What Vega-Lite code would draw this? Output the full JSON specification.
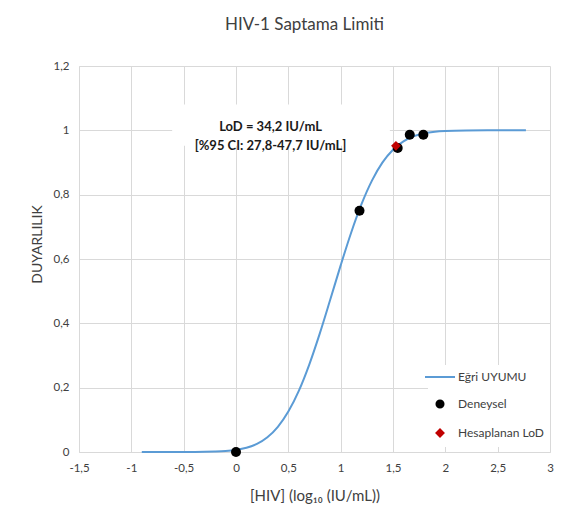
{
  "$schema": "https://vega.github.io/schema/vega-lite/v6.json",
  "width": 471,
  "height": 386,
  "autosize": {"type": "none"},
  "padding": {"left": 79, "top": 66, "right": 37, "bottom": 64},
  "background": "white",
  "title": {"text": "HIV-1 Saptama Limiti", "fontSize": 17, "font": "Lato", "fontWeight": "normal", "color": "#404040", "anchor": "middle", "frame": "group", "offset": 26, "dx": -10},
  "datasets": {
    "curve": [
      {"x": -0.9, "y": 0, "series": "Eğri UYUMU"},
      {"x": -0.7, "y": 0.00001, "series": "Eğri UYUMU"},
      {"x": -0.5, "y": 0.00006, "series": "Eğri UYUMU"},
      {"x": -0.4, "y": 0.00017, "series": "Eğri UYUMU"},
      {"x": -0.3, "y": 0.00047, "series": "Eğri UYUMU"},
      {"x": -0.2, "y": 0.0012, "series": "Eğri UYUMU"},
      {"x": -0.1, "y": 0.0028, "series": "Eğri UYUMU"},
      {"x": 0.0, "y": 0.0063, "series": "Eğri UYUMU"},
      {"x": 0.1, "y": 0.013, "series": "Eğri UYUMU"},
      {"x": 0.2, "y": 0.0251, "series": "Eğri UYUMU"},
      {"x": 0.3, "y": 0.0458, "series": "Eğri UYUMU"},
      {"x": 0.4, "y": 0.0782, "series": "Eğri UYUMU"},
      {"x": 0.5, "y": 0.1256, "series": "Eğri UYUMU"},
      {"x": 0.6, "y": 0.19, "series": "Eğri UYUMU"},
      {"x": 0.7, "y": 0.2718, "series": "Eğri UYUMU"},
      {"x": 0.8, "y": 0.3679, "series": "Eğri UYUMU"},
      {"x": 0.9, "y": 0.4731, "series": "Eğri UYUMU"},
      {"x": 1.0, "y": 0.5802, "series": "Eğri UYUMU"},
      {"x": 1.1, "y": 0.6817, "series": "Eğri UYUMU"},
      {"x": 1.2, "y": 0.7711, "series": "Eğri UYUMU"},
      {"x": 1.3, "y": 0.8444, "series": "Eğri UYUMU"},
      {"x": 1.4, "y": 0.9002, "series": "Eğri UYUMU"},
      {"x": 1.5, "y": 0.9397, "series": "Eğri UYUMU"},
      {"x": 1.6, "y": 0.9658, "series": "Eğri UYUMU"},
      {"x": 1.7, "y": 0.9818, "series": "Eğri UYUMU"},
      {"x": 1.8, "y": 0.9909, "series": "Eğri UYUMU"},
      {"x": 1.9, "y": 0.9958, "series": "Eğri UYUMU"},
      {"x": 2.0, "y": 0.9981, "series": "Eğri UYUMU"},
      {"x": 2.2, "y": 0.9997, "series": "Eğri UYUMU"},
      {"x": 2.4, "y": 1.0, "series": "Eğri UYUMU"},
      {"x": 2.6, "y": 1.0, "series": "Eğri UYUMU"},
      {"x": 2.77, "y": 1.0, "series": "Eğri UYUMU"}
    ],
    "exp": [
      {"x": 0.0, "y": 0.0, "series": "Deneysel"},
      {"x": 1.18, "y": 0.75, "series": "Deneysel"},
      {"x": 1.545, "y": 0.945, "series": "Deneysel"},
      {"x": 1.66, "y": 0.986, "series": "Deneysel"},
      {"x": 1.79, "y": 0.986, "series": "Deneysel"}
    ],
    "lod": [
      {"x": 1.528, "y": 0.952, "series": "Hesaplanan LoD"}
    ],
    "note": [
      {"x1": -0.61, "x2": 1.47, "y1": 0.952, "y2": 1.08, "xc": 0.33, "yc": 1.01, "label": ["LoD = 34,2 IU/mL", "[%95 CI: 27,8-47,7 IU/mL]"]}
    ]
  },
  "layer": [
    {
      "data": {"name": "note"},
      "mark": {"type": "rect", "fill": "white"},
      "encoding": {
        "x": {"field": "x1", "type": "quantitative", "scale": {"domain": [-1.5, 3], "nice": false, "zero": false}, "axis": {"values": [-1.5, -1, -0.5, 0, 0.5, 1, 1.5, 2, 2.5, 3], "title": "[HIV] (log₁₀ (IU/mL))"}},
        "x2": {"field": "x2"},
        "y": {"field": "y1", "type": "quantitative", "scale": {"domain": [0, 1.2], "nice": false}, "axis": {"values": [0, 0.2, 0.4, 0.6, 0.8, 1, 1.2], "title": "DUYARLILIK"}},
        "y2": {"field": "y2"}
      }
    },
    {
      "data": {"name": "curve"},
      "mark": {"type": "line", "strokeWidth": 2, "interpolate": "monotone"},
      "encoding": {
        "x": {"field": "x", "type": "quantitative"},
        "y": {"field": "y", "type": "quantitative"},
        "color": {
          "field": "series", "type": "nominal",
          "scale": {"domain": ["Eğri UYUMU", "Deneysel", "Hesaplanan LoD"], "range": ["#5B9BD5", "#000000", "#C00000"]},
          "legend": {
            "encode": {
              "symbols": {
                "update": {
                  "shape": {"signal": "datum.value === 'Eğri UYUMU' ? 'stroke' : (datum.value === 'Deneysel' ? 'circle' : 'diamond')"},
                  "size": {"signal": "datum.value === 'Eğri UYUMU' ? 900 : 50"},
                  "fill": {"signal": "datum.value === 'Eğri UYUMU' ? 'transparent' : scale('color', datum.value)"},
                  "stroke": {"signal": "datum.value === 'Eğri UYUMU' ? '#5B9BD5' : 'transparent'"},
                  "strokeWidth": {"value": 2},
                  "opacity": {"value": 1}
                }
              }
            }
          }
        }
      }
    },
    {
      "data": {"name": "exp"},
      "mark": {"type": "point", "filled": true, "size": 100, "opacity": 1, "shape": "circle"},
      "encoding": {
        "x": {"field": "x", "type": "quantitative"},
        "y": {"field": "y", "type": "quantitative"},
        "color": {"field": "series", "type": "nominal"}
      }
    },
    {
      "data": {"name": "lod"},
      "mark": {"type": "point", "filled": true, "size": 95, "opacity": 1, "shape": "diamond"},
      "encoding": {
        "x": {"field": "x", "type": "quantitative"},
        "y": {"field": "y", "type": "quantitative"},
        "color": {"field": "series", "type": "nominal"}
      }
    },
    {
      "data": {"name": "note"},
      "mark": {"type": "text", "font": "Lato", "fontWeight": "bold", "fontSize": 13, "lineHeight": 19, "align": "center", "baseline": "middle", "color": "#1a1a1a"},
      "encoding": {
        "x": {"field": "xc", "type": "quantitative"},
        "y": {"field": "yc", "type": "quantitative"},
        "text": {"field": "label"}
      }
    }
  ],
  "config": {
    "font": "Lato",
    "view": {"stroke": null},
    "axis": {
      "gridColor": "#d9d9d9",
      "gridWidth": 1,
      "domainColor": "#d9d9d9",
      "domainWidth": 1,
      "ticks": false,
      "labelFont": "Lato",
      "labelFontSize": 11.5,
      "labelColor": "#404040",
      "titleFont": "Lato",
      "titleFontWeight": "normal",
      "titleColor": "#404040",
      "labelExpr": "replace(toString(datum.value), '.', ',')"
    },
    "axisX": {"labelPadding": 10, "titleFontSize": 15, "titleY": 36, "titleBaseline": "top", "labelFlush": false},
    "axisY": {"labelPadding": 10, "titleFontSize": 14, "titleX": -42, "titleY": 178, "titleBaseline": "middle", "titleAlign": "center", "titleAngle": 270, "labelBaseline": "middle"},
    "legend": {
      "orient": "none",
      "legendX": 349,
      "legendY": 299,
      "title": null,
      "fillColor": "white",
      "padding": 6,
      "labelFont": "Lato",
      "labelFontSize": 12,
      "labelColor": "#404040",
      "symbolSize": 50,
      "symbolStrokeWidth": 2,
      "rowPadding": 13,
      "labelOffset": 12
    }
  }
}
